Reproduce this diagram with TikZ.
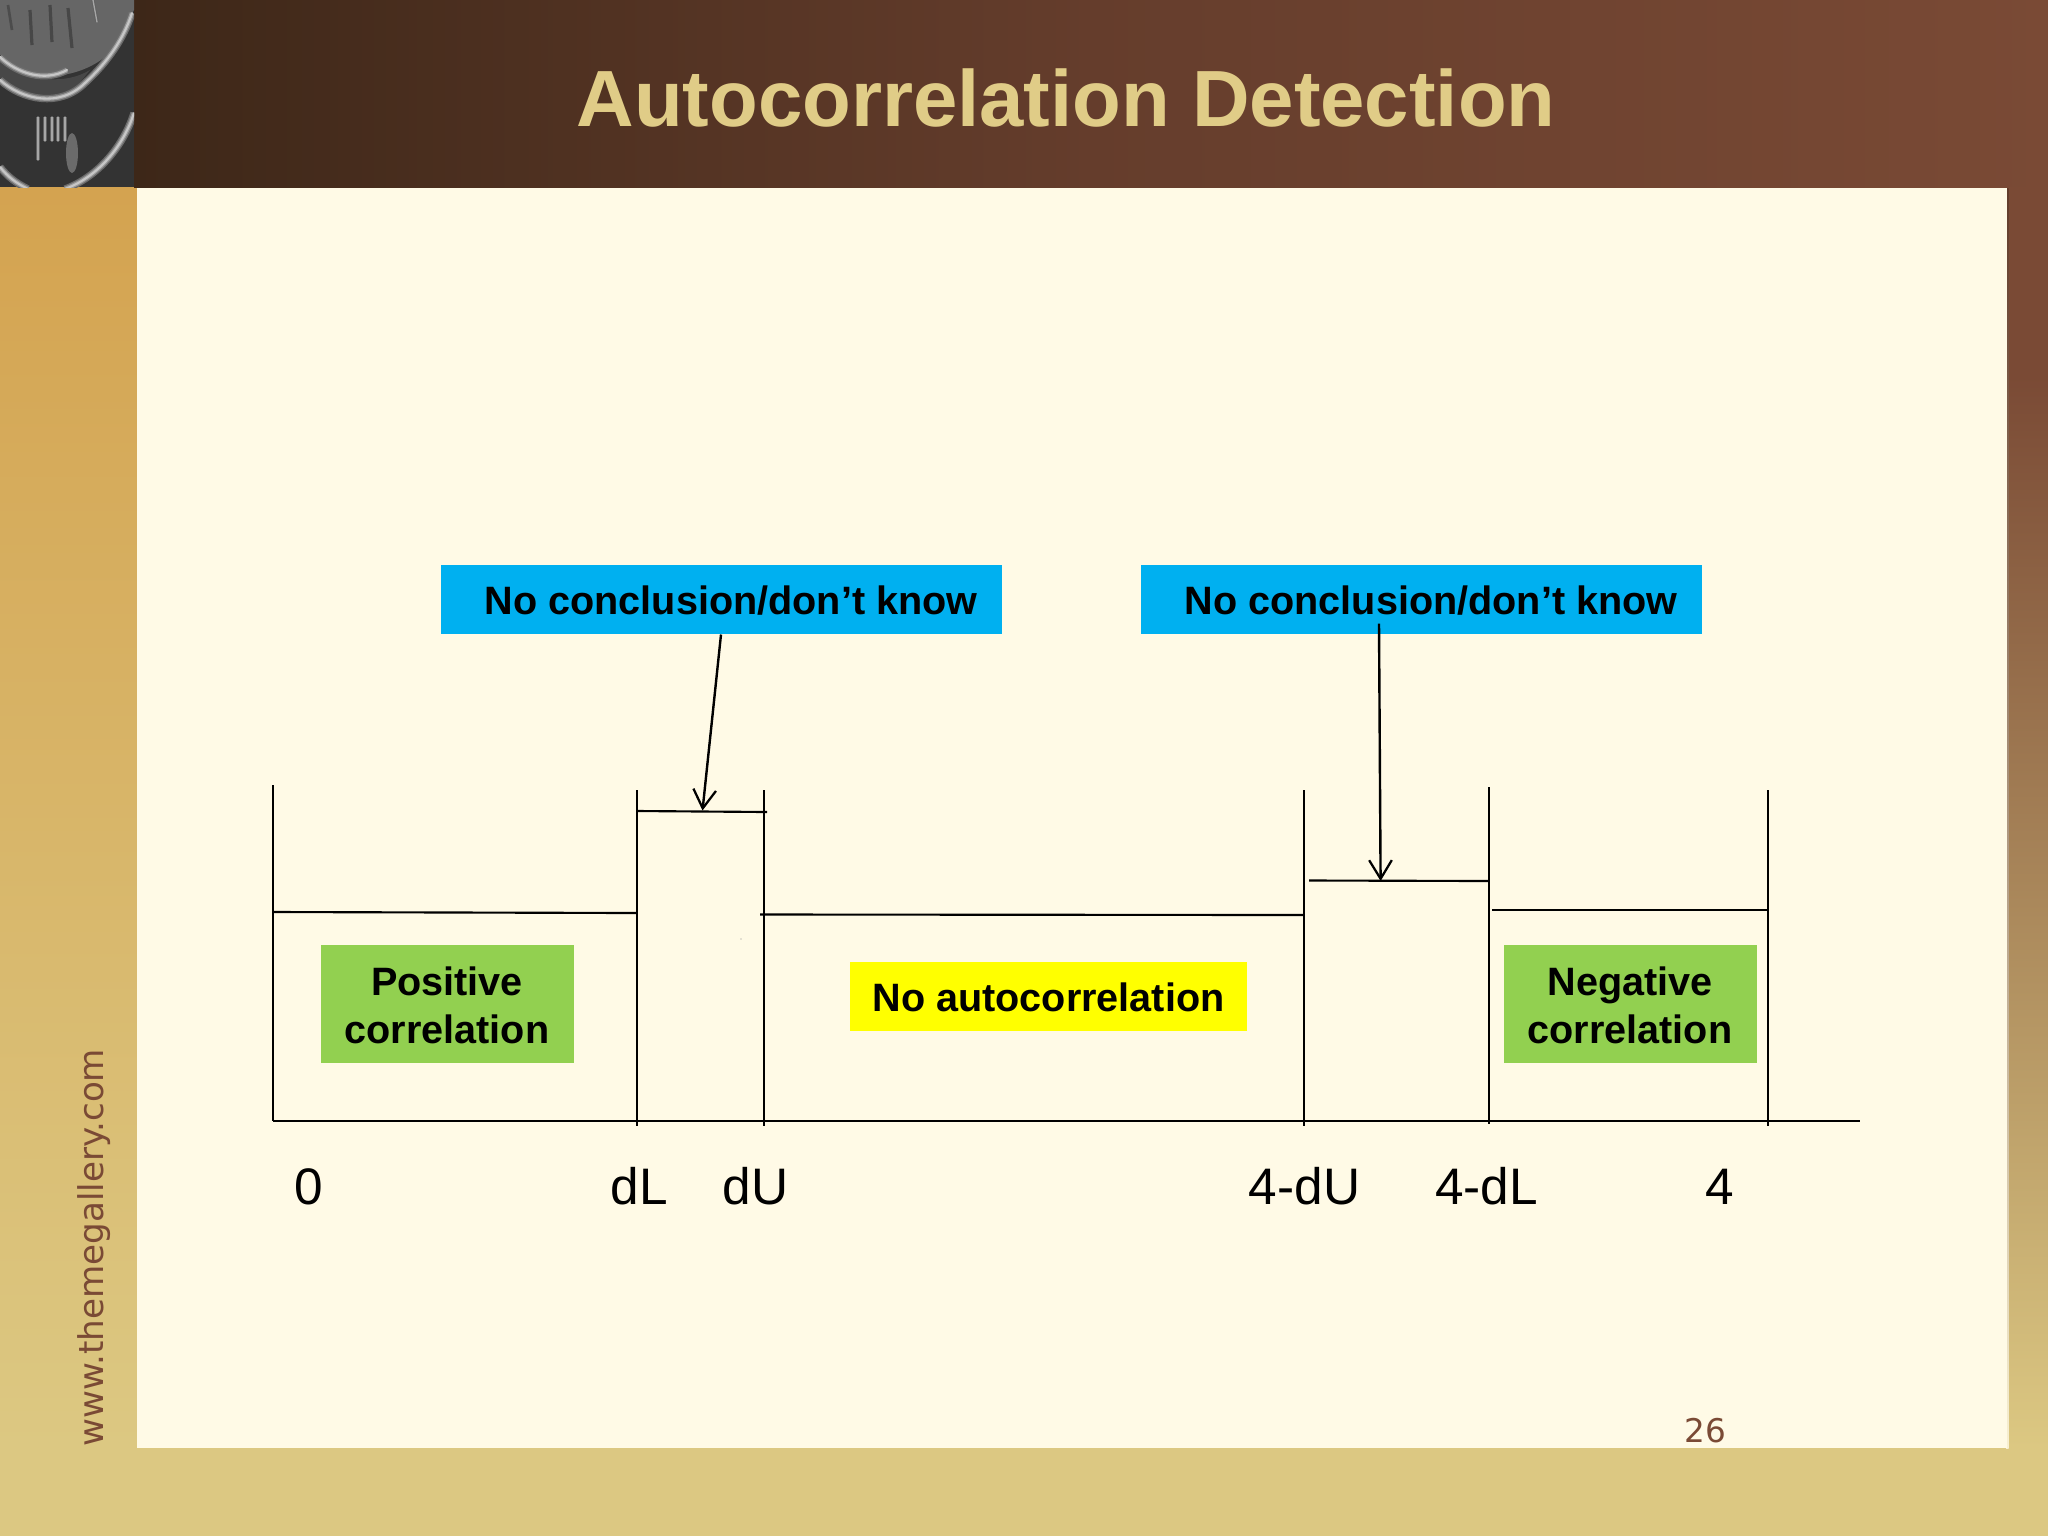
\documentclass[tikz,border=0pt]{standalone}
\usepackage{fontspec}
\setmainfont{Liberation Sans}
\newfontfamily\dejavu{DejaVu Sans}
\usetikzlibrary{arrows.meta,calc}
\definecolor{hdrL}{HTML}{3D2718}
\definecolor{hdrM}{HTML}{653D2C}
\definecolor{hdrR}{HTML}{7A4A35}
\definecolor{bandT}{HTML}{D4A350}
\definecolor{bandB}{HTML}{DCC882}
\definecolor{panel}{HTML}{FFFAE6}
\definecolor{titlec}{HTML}{E0CC87}
\definecolor{blueb}{HTML}{00B0F0}
\definecolor{greenb}{HTML}{92D050}
\definecolor{yellowb}{HTML}{FFFF00}
\tikzset{
  x=0.75pt,y=-0.75pt,
  flat/.style={inner sep=0pt,outer sep=0pt,minimum width=0pt},
  lab/.style={font=\fontsize{38.5}{44}\selectfont,text=black,inner sep=0pt,anchor=base},
  boxtxt/.style={font=\fontsize{29.7}{36}\selectfont\bfseries,text=black,align=center},
  thinln/.style={line width=1.5pt,black},
  barln/.style={line width=1.6pt,black},
  arrowln/.style={line width=1.8pt,black,-{Straight Barb[length=14pt,width=17pt,line width=1.7pt]}},
  softarc/.style={line cap=round,black!22,line width=1.6pt,preaction={draw=black!58,line width=5.5pt},preaction={draw=black!40,line width=3.4pt}},
  softline/.style={line cap=round,black!35,line width=1pt,preaction={draw=black!62,line width=2.4pt}},
}
\begin{document}
\begin{tikzpicture}
\useasboundingbox (0,0) rectangle (2048,1536);
% frame
\fill[bandB] (0,0) rectangle (2048,1536);
\shade[top color=bandT,bottom color=bandB] (0,187) rectangle (137,1448);
\shade[left color=hdrL,right color=hdrR,middle color=hdrM] (134,0) rectangle (2048,187);
\fill[hdrR] (2007,187) rectangle (2048,375);
\shade[top color=hdrR,bottom color=bandB] (2007,375) rectangle (2048,1448);
\shade[top color=hdrR!80!black,bottom color=panel!80!bandB] (2006,188) rectangle (2008.5,1448);
\fill[panel] (137,188) rectangle (2007,1448);
% photo
\begin{scope}
\clip (0,0) rectangle (134,187);
\fill[black!80] (0,0) rectangle (134,187);
\fill[black!60] (0,0) -- (134,0) -- (134,10) -- (112,50) .. controls (95,70) and (60,80) .. (33,75) -- (0,55) -- cycle;
\fill[black!72] (0,60) .. controls (30,82) and (65,85) .. (90,70) -- (70,95) -- (30,98) -- (0,82) -- cycle;
\draw[black!70,line width=2pt] (8,5) -- (12,30);
\draw[black!72,line width=2.4pt] (30,10) -- (32,45);
\draw[black!72,line width=2.4pt] (50,5) -- (52,42);
\draw[black!72,line width=2.4pt] (68,8) -- (72,48);
\draw[softarc] (0,57) .. controls (18,74) and (45,82) .. (67,70);
\draw[softarc] (0,80) .. controls (22,100) and (60,108) .. (85,83) .. controls (108,62) and (124,38) .. (132,13);
\draw[softarc] (0,167) .. controls (8,177) and (16,183) .. (28,189);
\draw[softarc] (65,189) .. controls (95,178) and (122,150) .. (134,113);
\draw[softline] (93,0) -- (97,22);
\foreach \gx/\gl in {38/43,45/24,52/24,58/24,65/24}{
  \draw[softline] (\gx,117) -- (\gx,117+\gl);
}
\fill[black!58] (72,153) ellipse (6 and 20);
\end{scope}
% title
\node[flat,font=\fontsize{59.8}{62}\selectfont\bfseries,text=titlec] (title) at (1066,98) {Autocorrelation Detection};
% boxes
\node[flat,fill=blueb,minimum width=561*0.75pt,minimum height=69*0.75pt] (nc1) at (721.5,599.5) {};
\node[flat,fill=blueb,minimum width=561*0.75pt,minimum height=69*0.75pt] (nc2) at (1421.5,599.5) {};
\node[boxtxt,flat] (nc1t) at (731,601) {No conclusion/don’t know};
\node[boxtxt,flat] (nc2t) at (1431,601) {No conclusion/don’t know};
\node[flat,fill=greenb,minimum width=253*0.75pt,minimum height=118*0.75pt] (pos) at (447,1004) {};
\node[boxtxt,flat] (post) at (447,1005) {Positive\\correlation};
\node[flat,fill=greenb,minimum width=253*0.75pt,minimum height=118*0.75pt] (neg) at (1630,1004) {};
\node[boxtxt,flat] (negt) at (1630,1005) {Negative\\correlation};
\node[flat,fill=yellowb,minimum width=397*0.75pt,minimum height=69*0.75pt] (noa) at (1048.5,996) {};
\node[boxtxt,flat] (noat) at (1048.5,997.5) {No autocorrelation};
% key points
\coordinate (a0t) at (273,785);
\coordinate (a0) at (273,1121);
\coordinate (aEnd) at (1860,1121);
\coordinate (dLt) at (637,790); \coordinate (dLb) at (637,1126);
\coordinate (dUt) at (764,790); \coordinate (dUb) at (764,1126);
\coordinate (eUt) at (1304,790); \coordinate (eUb) at (1304,1126);
\coordinate (eLt) at (1489,787); \coordinate (eLb) at (1489,1124);
\coordinate (ft) at (1768,790); \coordinate (fb) at (1768,1126);
% verticals and axis
\draw[thinln] (a0t) -- (a0);
\draw[thinln] (dLt) -- (dLb);
\draw[thinln] (dUt) -- (dUb);
\draw[thinln] (eUt) -- (eUb);
\draw[thinln] (eLt) -- (eLb);
\draw[thinln] (ft) -- (fb);
\draw[barln] (a0) -- (aEnd);
% levels
\coordinate (l1a) at (273,912); \coordinate (l1b) at (637,913);
\coordinate (l2a) at (637,811); \coordinate (l2b) at (767,812);
\coordinate (l3a) at (760,914.5); \coordinate (l3b) at (1304,915);
\coordinate (l4a) at (1309,880.5); \coordinate (l4b) at (1489,881);
\coordinate (l5a) at (1492,910); \coordinate (l5b) at (1768,910);
\draw[barln] (l1a) -- (l1b);
\draw[barln] (l2a) -- (l2b);
\draw[barln] (l3a) -- (l3b);
\draw[barln] (l4a) -- (l4b);
\draw[barln] (l5a) -- (l5b);
% arrows
\coordinate (ar1s) at (721,634.5); \coordinate (ar1e) at (702.5,810.5);
\coordinate (ar2s) at (1379,623.5); \coordinate (ar2e) at (1380.6,881);
\draw[arrowln] (ar1s) -- (ar1e);
\draw[arrowln] (ar2s) -- (ar2e);
\fill[black!45] (741,939) circle (0.7);
% axis labels
\node[lab] (l0) at (308.5,1204) {0};
\node[lab] (ldL) at (639.5,1204) {dL};
\node[lab] (ldU) at (755.5,1204) {dU};
\node[lab] (l4dU) at (1304.5,1204) {4-dU};
\node[lab] (l4dL) at (1486.5,1204) {4-dL};
\node[lab] (l4) at (1719.5,1204) {4};
% footer
\node[flat,font=\dejavu\fontsize{24.5}{28}\selectfont,text=hdrR] (pg) at (1705.5,1431) {26};
\node[flat,font=\dejavu\fontsize{25.6}{28}\selectfont,text=hdrR,rotate=90,anchor=base] (www) at (103,1247.5) {www.themegallery.com};
\end{tikzpicture}
\end{document}
